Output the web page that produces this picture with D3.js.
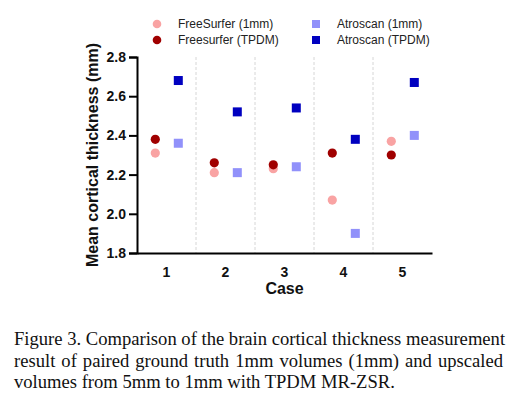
<!DOCTYPE html>
<html lang="en">
<head>
<meta charset="UTF-8">
<title>Cortical thickness</title>
<style>
    body { margin: 0; background: #fff; width: 521px; height: 399px; overflow: hidden; position: relative; }
    svg { position: absolute; left: 0; top: 0; }
    #caption {
        position: absolute; left: 14px; top: 328px; width: 489px;
        font-family: "Liberation Serif", "Times New Roman", serif;
        font-size: 18.6px; line-height: 21.5px; color: #111;
    }
    #caption .j { text-align: justify; text-align-last: justify; white-space: nowrap; }
</style>
</head>
<body>
<svg width="521" height="320"></svg>
<div id="caption">
    <div class="j">Figure 3. Comparison of the brain cortical thickness measurement</div>
    <div class="j">result of paired ground truth 1mm volumes (1mm) and upscaled</div>
    <div>volumes from 5mm to 1mm with TPDM MR-ZSR.</div>
</div>
<script src="https://d3js.org/d3.v7.min.js"></script>
<script>
    const cases = ["1", "2", "3", "4", "5"];
    const freesurfer1mm = [2.31, 2.21, 2.23, 2.07, 2.37];
    const freesurferTPDM = [2.38, 2.26, 2.25, 2.31, 2.30];
    const atroscan1mm = [2.36, 2.21, 2.24, 1.90, 2.40];
    const atroscanTPDM = [2.68, 2.52, 2.54, 2.38, 2.67];
    const yTicks = [1.8, 2.0, 2.2, 2.4, 2.6, 2.8];

    const series = [
        { name: "FreeSurfer (1mm)", values: freesurfer1mm, shape: "circle", color: "#f9a3a3", offset: -0.19 },
        { name: "Freesurfer (TPDM)", values: freesurferTPDM, shape: "circle", color: "#a00000", offset: -0.19 },
        { name: "Atroscan (1mm)", values: atroscan1mm, shape: "square", color: "#9191fa", offset: 0.2 },
        { name: "Atroscan (TPDM)", values: atroscanTPDM, shape: "square", color: "#0000c0", offset: 0.2 }
    ];

    const svg = d3.select("svg");
    const plotLeft = 137, plotRight = 432, plotTop = 57, plotBottom = 253;

    const x = d3.scaleBand().domain(cases).range([plotLeft, plotRight]);
    const y = d3.scaleLinear().domain([1.8, 2.8]).range([plotBottom, plotTop]);
    const font = "Arial, 'Liberation Sans', sans-serif";

    // dashed dividers between cases
    svg.append("g").selectAll("line")
        .data(cases.slice(1))
        .join("line")
        .attr("x1", d => x(d)).attr("x2", d => x(d))
        .attr("y1", plotTop).attr("y2", plotBottom)
        .attr("stroke", "#d6d6d6").attr("stroke-width", 1)
        .attr("stroke-dasharray", "3,2");

    // y axis
    const yAxis = svg.append("g")
        .attr("transform", `translate(${plotLeft},0)`)
        .call(d3.axisLeft(y).tickValues(yTicks).tickFormat(d3.format(".1f")).tickSizeOuter(0).tickSize(8).tickPadding(3));
    yAxis.select(".domain").attr("stroke", "#000").attr("stroke-width", 2);
    yAxis.selectAll(".tick line").attr("stroke", "#000").attr("stroke-width", 2);
    yAxis.selectAll("text").attr("font-family", font).attr("font-size", 14).attr("font-weight", "bold").attr("fill", "#111");

    // x axis
    const xAxis = svg.append("g")
        .attr("transform", `translate(0,${plotBottom})`)
        .call(d3.axisBottom(x).tickSize(0).tickSizeOuter(0).tickPadding(14));
    xAxis.select(".domain").attr("stroke", "#000").attr("stroke-width", 2);
    xAxis.selectAll("text").attr("font-family", font).attr("font-size", 14).attr("font-weight", "bold").attr("fill", "#111");

    // axis titles
    svg.append("text")
        .attr("transform", `translate(98,${(plotTop + plotBottom) / 2}) rotate(-90)`)
        .attr("text-anchor", "middle")
        .attr("font-family", font).attr("font-size", 16).attr("font-weight", "bold").attr("fill", "#111")
        .text("Mean cortical thickness (mm)");
    svg.append("text")
        .attr("x", (plotLeft + plotRight) / 2).attr("y", 294)
        .attr("text-anchor", "middle")
        .attr("font-family", font).attr("font-size", 16).attr("font-weight", "bold").attr("fill", "#111")
        .text("Case");

    // points
    const cx = (s, i) => x(cases[i]) + x.bandwidth() / 2 + s.offset * x.bandwidth();
    series.forEach(s => {
        const g = svg.append("g");
        if (s.shape === "circle") {
            g.selectAll("circle").data(s.values).join("circle")
                .attr("cx", (d, i) => cx(s, i)).attr("cy", d => y(d))
                .attr("r", 4.6).attr("fill", s.color);
        } else {
            g.selectAll("rect").data(s.values).join("rect")
                .attr("x", (d, i) => cx(s, i) - 4.5).attr("y", d => y(d) - 4.5)
                .attr("width", 9).attr("height", 9).attr("fill", s.color);
        }
    });

    // legend
    const legendPos = [[157, 24], [157, 40], [316, 24], [316, 40]];
    series.forEach((s, i) => {
        const [lx, ly] = legendPos[i];
        if (s.shape === "circle") {
            svg.append("circle").attr("cx", lx).attr("cy", ly).attr("r", 4.3).attr("fill", s.color);
        } else {
            svg.append("rect").attr("x", lx - 4).attr("y", ly - 4).attr("width", 8).attr("height", 8).attr("fill", s.color);
        }
        svg.append("text")
            .attr("x", lx + 21).attr("y", ly + 4)
            .attr("font-family", font).attr("font-size", 12).attr("fill", "#222")
            .text(s.name);
    });
</script>
</body>
</html>
